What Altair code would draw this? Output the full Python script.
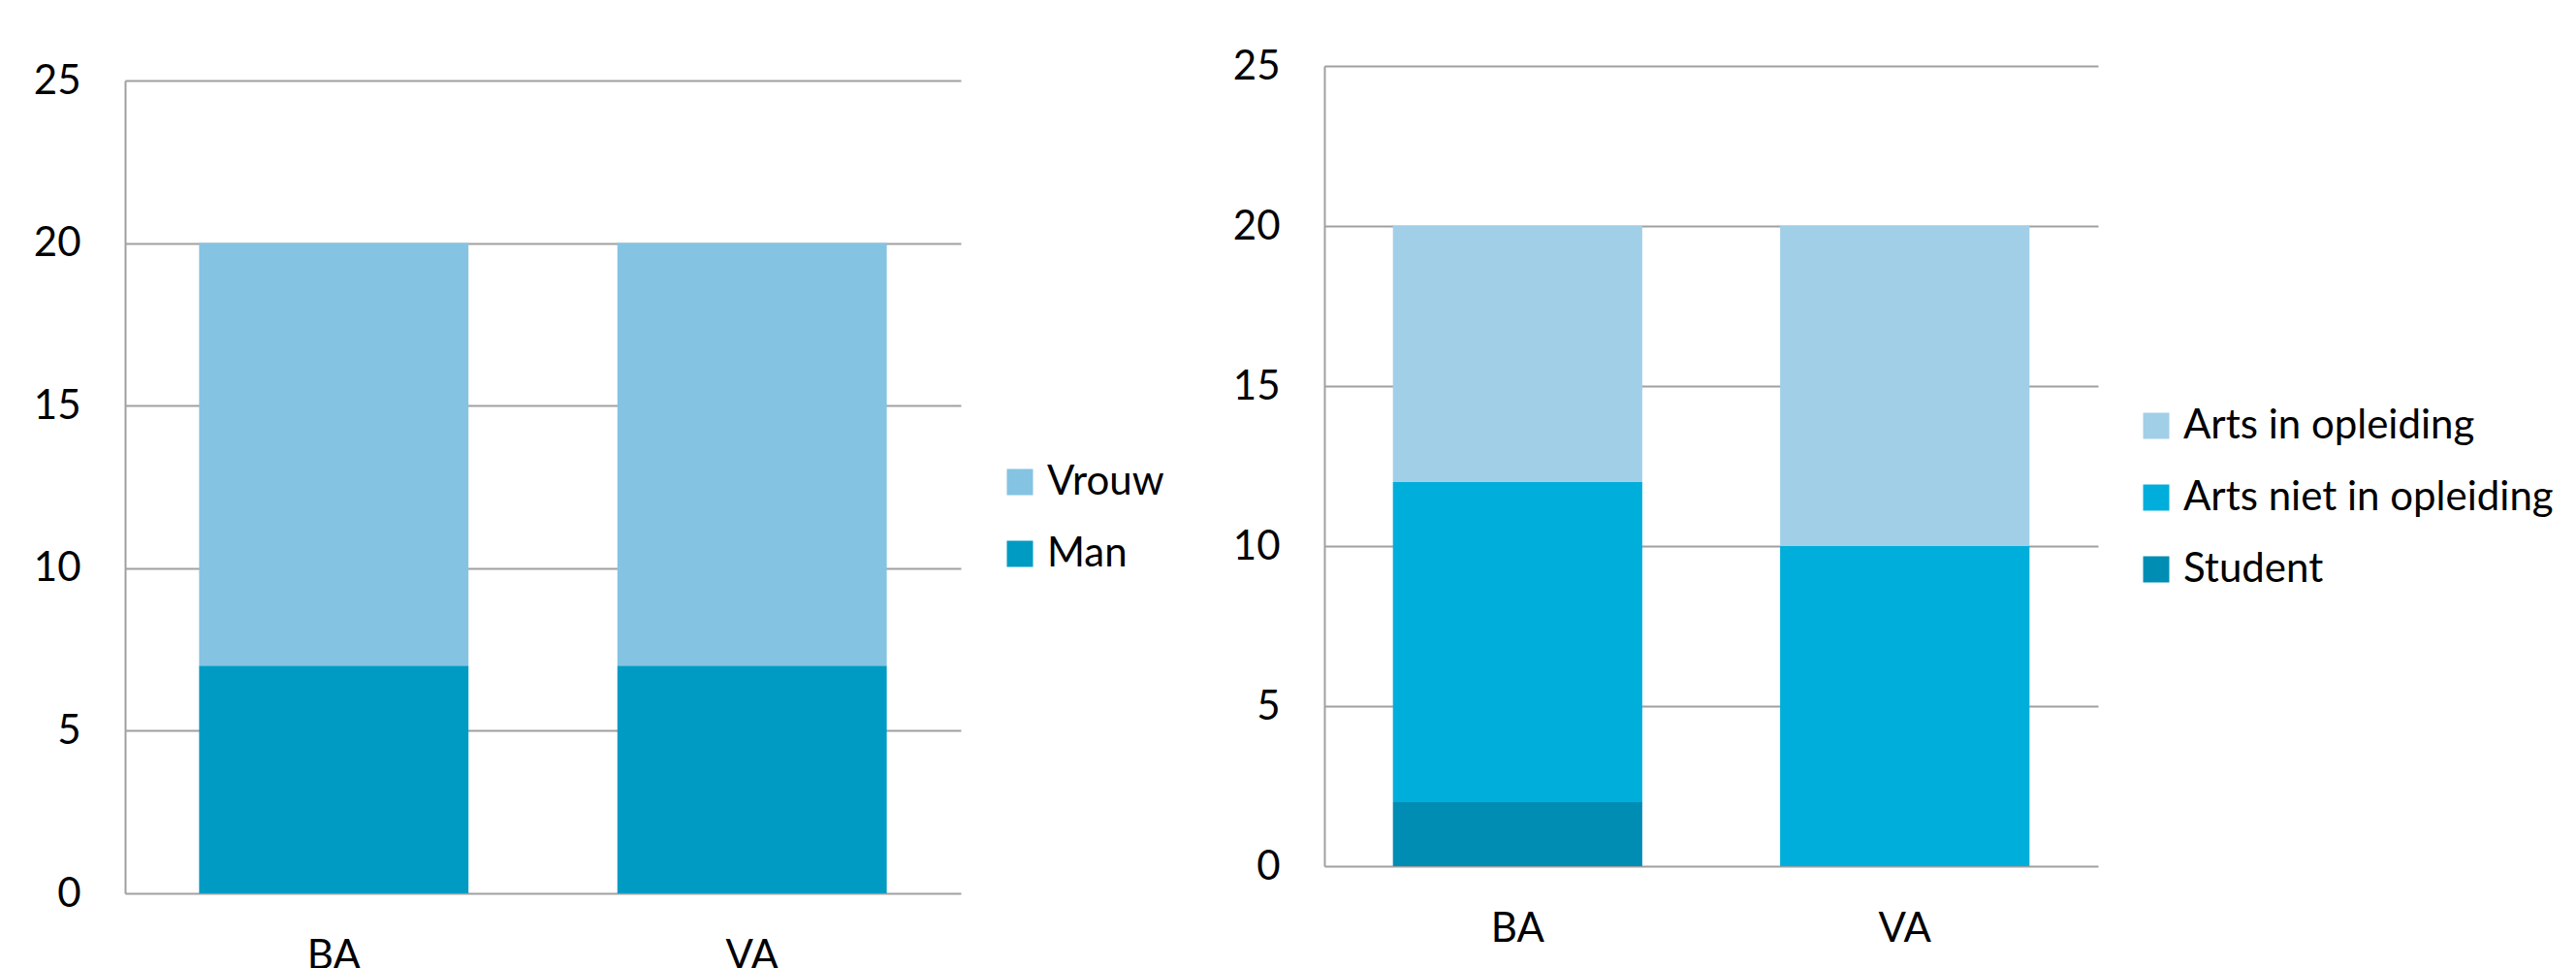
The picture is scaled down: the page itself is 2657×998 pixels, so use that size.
import altair as alt
import pandas as pd

categories = ["BA", "VA"]

gender_series = ["Vrouw", "Man"]          # legend order
man_values = [7, 7]
vrouw_values = [13, 13]
gender_colors = ["#85C3E3", "#009BC3"]

role_series = ["Arts in opleiding", "Arts niet in opleiding", "Student"]  # legend order
student_values = [2, 0]
niet_values = [10, 10]
in_opl_values = [8, 10]
role_colors = ["#A2CFE8", "#00AEDB", "#008DB4"]

y_ticks = [0, 5, 10, 15, 20, 25]

FONT = "Lato"
FS = 42
GRID = "#A0A0A0"

left_rows = []
for i, c in enumerate(categories):
    left_rows.append({"cat": c, "series": "Man", "value": man_values[i], "ord": 0})
    left_rows.append({"cat": c, "series": "Vrouw", "value": vrouw_values[i], "ord": 1})
left_df = pd.DataFrame(left_rows)

right_rows = []
for i, c in enumerate(categories):
    right_rows.append({"cat": c, "series": "Student", "value": student_values[i], "ord": 0})
    right_rows.append({"cat": c, "series": "Arts niet in opleiding", "value": niet_values[i], "ord": 1})
    right_rows.append({"cat": c, "series": "Arts in opleiding", "value": in_opl_values[i], "ord": 2})
right_df = pd.DataFrame(right_rows)


def y_axis():
    return alt.Axis(values=y_ticks, grid=True, gridColor=GRID, gridWidth=2,
                    domain=True, domainColor=GRID, domainWidth=2,
                    ticks=False, tickSize=0, labelFont=FONT, labelFontSize=FS,
                    labelColor="black", labelPadding=46, title=None)


def x_axis(pad):
    return alt.Axis(labelAngle=0, domain=False, ticks=False, tickSize=0,
                    labelFont=FONT, labelFontSize=FS, labelColor="black",
                    labelPadding=pad, title=None)


def legend(lx, ly):
    return alt.Legend(orient="none", legendX=lx, legendY=ly, title=None,
                      symbolType="square", symbolSize=729, symbolStrokeWidth=0,
                      labelFont=FONT, labelFontSize=FS, labelColor="black",
                      labelOffset=7, rowPadding=32, padding=0, labelLimit=1000)


xscale = alt.Scale(paddingInner=0.356, paddingOuter=0.177)

left = alt.Chart(left_df).mark_bar().encode(
    x=alt.X("cat:N", sort=categories, scale=xscale, axis=x_axis(44)),
    y=alt.Y("value:Q", stack="zero",
            scale=alt.Scale(domain=[0, 25], range=[853, 15], nice=False),
            axis=y_axis()),
    color=alt.Color("series:N",
                    scale=alt.Scale(domain=gender_series, range=gender_colors),
                    legend=legend(902, 408)),
    order=alt.Order("ord:Q"),
).properties(width=862, height=853)

right = alt.Chart(right_df).mark_bar().encode(
    x=alt.X("cat:N", sort=categories, scale=xscale, axis=x_axis(16)),
    y=alt.Y("value:Q", stack="zero",
            scale=alt.Scale(domain=[0, 25], range=[825, 0], nice=False),
            axis=y_axis()),
    color=alt.Color("series:N",
                    scale=alt.Scale(domain=role_series, range=role_colors),
                    legend=legend(837, 350)),
    order=alt.Order("ord:Q"),
).properties(width=798, height=853)

chart = alt.hconcat(left, right, spacing=375, bounds="flush").resolve_scale(
    color="independent", y="independent", x="independent"
).properties(
    padding={"left": 26, "top": 39, "right": 0, "bottom": 0},
    background="white",
).configure(font=FONT).configure_view(strokeWidth=0, stroke="transparent")

chart.save("out.html", embed_options={"renderer": "svg", "actions": False})
